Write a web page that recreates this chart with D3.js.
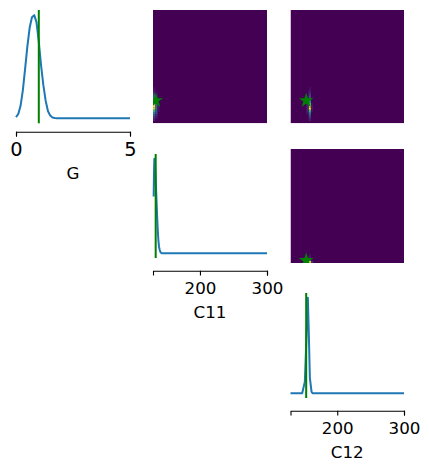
<!DOCTYPE html>
<html><head><meta charset="utf-8">
<script src="https://cdn.jsdelivr.net/npm/d3@7"></script>
<style>body{margin:0;background:#fff} svg{display:block} text{font-family:"DejaVu Sans",sans-serif}</style>
</head><body>
<svg id="c" width="429" height="471"></svg>
<script>
// ---- data ----
const labels = ["G", "C11", "C12"];
const limits = [[0, 5], [130, 300], [130, 300]];
const tickValues = [[0, 5], [200, 300], [200, 300]];
const truth = [1.0, 134, 153.5];

// marginal densities (normalized)
const gGrid = [0, 0.1, 0.2, 0.3, 0.4, 0.5, 0.6, 0.7, 0.8, 0.9, 1.0, 1.1, 1.2, 1.3, 1.4, 1.5, 1.6, 1.7, 1.8, 5.0];
const gDens = [0.01, 0.04, 0.12, 0.27, 0.48, 0.70, 0.88, 0.98, 1.00, 0.93, 0.74, 0.51, 0.32, 0.17, 0.07, 0.025, 0.006, 0.001, 0, 0];
const c11Grid = [131, 131.5, 132, 133, 134, 135, 136, 137, 138, 139, 140, 141, 142, 143, 300];
const c11Dens = [0.60, 0.86, 1.00, 0.93, 0.78, 0.60, 0.42, 0.26, 0.14, 0.07, 0.035, 0.015, 0.005, 0, 0];
const c12Grid = [130, 147.5, 151.5, 156, 157.5, 159, 161.5, 163, 300];
const c12Dens = [0, 0, 0.12, 1.0, 0.61, 0.16, 0.016, 0, 0];

// 2D histograms: [x bin centre, y bin centre, normalized count]
const histGC11 = [
  [131.7,0.15,0.08],[131.7,0.25,0.15],[131.7,0.35,0.28],[131.7,0.45,0.45],[131.7,0.55,0.65],[131.7,0.65,0.9],[131.7,0.75,1.0],
  [131.7,0.85,0.9],[131.7,0.95,0.7],[131.7,1.05,0.5],[131.7,1.15,0.33],[131.7,1.25,0.2],[131.7,1.35,0.12],[131.7,1.45,0.06],[131.7,1.55,0.03],
  [135.1,0.25,0.06],[135.1,0.35,0.12],[135.1,0.45,0.2],[135.1,0.55,0.3],[135.1,0.65,0.38],[135.1,0.75,0.4],[135.1,0.85,0.36],
  [135.1,0.95,0.28],[135.1,1.05,0.2],[135.1,1.15,0.13],[135.1,1.25,0.08],[135.1,1.35,0.04],
  [138.5,0.55,0.04],[138.5,0.65,0.05],[138.5,0.75,0.05],[138.5,0.85,0.04]
];
const histGC12 = [
  [158.9,0.15,0.08],[158.9,0.25,0.15],[158.9,0.35,0.28],[158.9,0.45,0.45],[158.9,0.55,0.68],[158.9,0.65,1.0],[158.9,0.75,0.9],
  [158.9,0.85,0.75],[158.9,0.95,0.55],[158.9,1.05,0.4],[158.9,1.15,0.27],[158.9,1.25,0.18],[158.9,1.35,0.11],[158.9,1.45,0.06],[158.9,1.55,0.03],
  [155.5,0.45,0.06],[155.5,0.55,0.1],[155.5,0.65,0.12],[155.5,0.75,0.12],[155.5,0.85,0.1],[155.5,0.95,0.07],
  [162.3,0.55,0.04],[162.3,0.65,0.06],[162.3,0.75,0.06],[162.3,0.85,0.04]
];
const histC11C12 = [
  [158.9,131.7,1.0],[155.5,131.7,0.35],[162.3,131.7,0.12],[158.9,135.1,0.3],[155.5,135.1,0.1],[158.9,138.5,0.08],[158.9,141.9,0.03]
];
const binWidth = [0.1, 3.4, 3.4];

// ---- layout ----
const svg = d3.select("#c");
const colX = [[16, 130], [153, 267], [290.5, 404]];
const diagY = [[10, 123.3], [154, 258], [293, 398]];
const heatY = [[10, 123.3], [149, 263]];
const spineY = [131.7, 270.7, 410.7];
const tickFont = [19.4, 16.7, 16.7];
const tickPad = [5.6, 6.2, 6.2];
const blue = "#1f77b4", green = "#008000";

const defs = svg.append("defs");
defs.append("filter").attr("id", "soft").attr("x", "-50%").attr("y", "-50%").attr("width", "200%").attr("height", "200%")
  .append("feGaussianBlur").attr("stdDeviation", 0.75);

const xScale = i => d3.scaleLinear().domain(limits[i]).range(colX[i]);

// diagonal panels
const diagData = [[gGrid, gDens], [c11Grid, c11Dens], [c12Grid, c12Dens]];
diagData.forEach(([gx, gy], i) => {
  const x = xScale(i);
  const y = d3.scaleLinear().domain([-0.05, 1.05]).range([diagY[i][1], diagY[i][0]]);
  const pts = gx.map((v, k) => [v, gy[k]]);
  svg.append("path").datum(pts)
    .attr("d", d3.line().x(d => x(d[0])).y(d => y(d[1])))
    .attr("fill", "none").attr("stroke", blue).attr("stroke-width", 2).attr("stroke-linejoin", "round");
  svg.append("line")
    .attr("x1", x(truth[i])).attr("x2", x(truth[i]))
    .attr("y1", y(-0.05)).attr("y2", y(1.05))
    .attr("stroke", green).attr("stroke-width", 2);
  const ax = svg.append("g").attr("transform", `translate(0,${spineY[i]})`)
    .call(d3.axisBottom(x).tickValues(tickValues[i]).tickFormat(d3.format("d"))
      .tickSizeOuter(0).tickSize(4.9).tickPadding(tickPad[i]));
  ax.attr("font-family", null).attr("font-size", null);
  ax.selectAll("path,line").attr("stroke", "#000").attr("stroke-width", 1.1);
  ax.selectAll("text").attr("fill", "#000").style("font-size", tickFont[i] + "px");
  svg.append("text").attr("x", (colX[i][0] + colX[i][1]) / 2).attr("y", spineY[i] + 47.6)
    .attr("text-anchor", "middle").style("font-size", "16.7px").attr("fill", "#000").text(labels[i]);
});

// upper panels
const uppers = [[0, 1, histGC11], [0, 2, histGC12], [1, 2, histC11C12]];
uppers.forEach(([r, c, cells], k) => {
  const x = xScale(c);
  const y = d3.scaleLinear().domain(limits[r]).range([heatY[r][1], heatY[r][0]]);
  const [x0, x1] = colX[c], [y0, y1] = heatY[r];
  const id = "clip" + k;
  defs.append("clipPath").attr("id", id).append("rect")
    .attr("x", x0).attr("y", y0).attr("width", x1 - x0).attr("height", y1 - y0);
  const g = svg.append("g").attr("clip-path", `url(#${id})`);
  g.append("rect").attr("x", x0).attr("y", y0).attr("width", x1 - x0).attr("height", y1 - y0)
    .attr("fill", d3.interpolateViridis(0));
  const bw = binWidth[c], bh = binWidth[r];
  g.append("g").attr("filter", "url(#soft)").selectAll("rect").data(cells).join("rect")
    .attr("x", d => x(d[0] - bw / 2)).attr("width", d => x(d[0] + bw / 2) - x(d[0] - bw / 2))
    .attr("y", d => y(d[1] + bh / 2)).attr("height", d => y(d[1] - bh / 2) - y(d[1] + bh / 2))
    .attr("fill", d => d3.interpolateViridis(d[2]));
  g.append("path")
    .attr("d", d3.symbol(d3.symbolStar, 68))
    .attr("transform", `translate(${x(truth[c])},${y(truth[r])})`)
    .attr("fill", green);
});
</script>
</body></html>
